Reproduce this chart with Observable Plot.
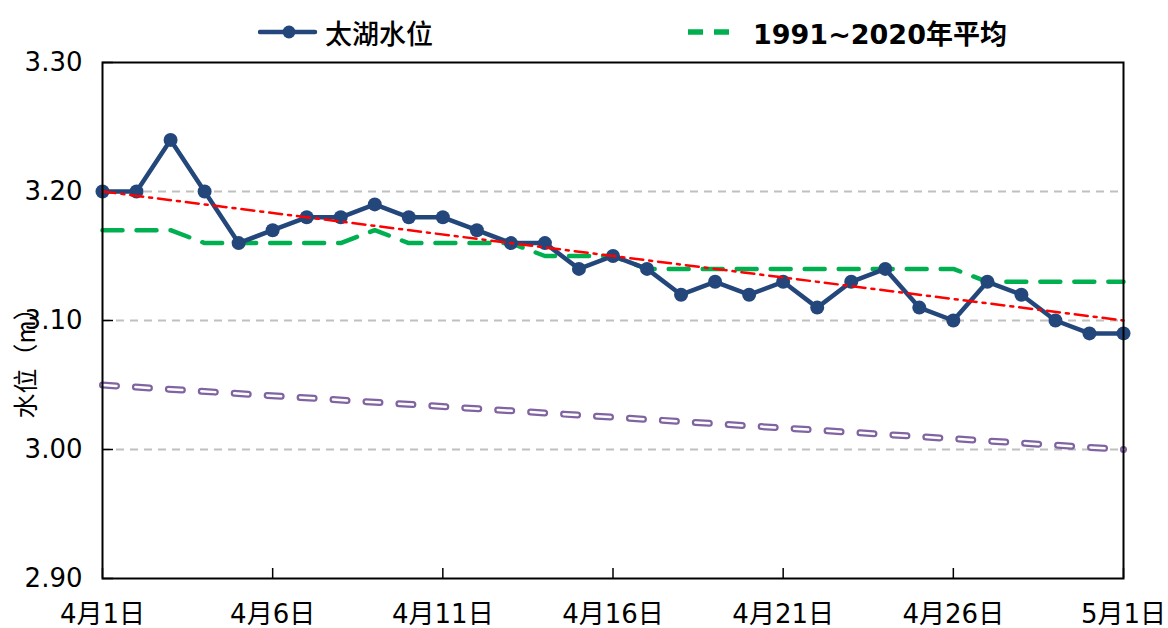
<!DOCTYPE html>
<html>
<head>
<meta charset="utf-8">
<script src="https://cdn.jsdelivr.net/npm/d3@7"></script>
<script src="https://cdn.jsdelivr.net/npm/@observablehq/plot@0.6"></script>
<style>
  html, body { margin: 0; padding: 0; background: #fff; }
  #wrap { position: relative; width: 1168px; height: 628px; font-family: "DejaVu Sans", "Noto Sans CJK SC", sans-serif; }
  #legend { position: absolute; left: 0; top: 0; width: 1168px; height: 62px; }
  .lg { position: absolute; top: 12px; height: 40px; display: flex; align-items: center; }
  .lg span { font-size: 27px; color: #000; white-space: nowrap; }
  #ylabel { position: absolute; left: 24px; top: 357px; transform: translate(-50%, -50%) rotate(-90deg);
            font-family: "Noto Sans CJK SC", sans-serif; font-size: 25px; white-space: nowrap; color: #000; line-height: 1; }
</style>
</head>
<body>
<div id="wrap">
  <div id="legend">
    <div class="lg" style="left:258px;">
      <svg width="60" height="40"><line x1="2" y1="20" x2="57" y2="20" stroke="#24477b" stroke-width="4.5" stroke-linecap="round"/><circle cx="31" cy="20" r="6.5" fill="#24477b"/></svg>
      <span style="margin-left:7px;font-family:'Noto Sans CJK SC';font-weight:500;">太湖水位</span>
    </div>
    <div class="lg" style="left:684px;">
      <svg width="50" height="40"><line x1="4" y1="20" x2="46" y2="20" stroke="#00b050" stroke-width="5.5" stroke-dasharray="15,11"/></svg>
      <span style="margin-left:19px;font-weight:bold;font-family:'DejaVu Sans','Noto Sans CJK SC';">1991~2020年平均</span>
    </div>
  </div>
  <div id="ylabel"></div>
</div>
<script>
// ---- data ----
const startDate = Date.UTC(2024, 3, 1);
const dayLabels = d3.range(31); // day offsets from 4月1日 to 5月1日
const taihuLevel = [3.20, 3.20, 3.24, 3.20, 3.16, 3.17, 3.18, 3.18, 3.19, 3.18,
                    3.18, 3.17, 3.16, 3.16, 3.14, 3.15, 3.14, 3.12, 3.13, 3.12,
                    3.13, 3.11, 3.13, 3.14, 3.11, 3.10, 3.13, 3.12, 3.10, 3.09, 3.09];
const avgLevel =   [3.17, 3.17, 3.17, 3.16, 3.16, 3.16, 3.16, 3.16, 3.17, 3.16,
                    3.16, 3.16, 3.16, 3.15, 3.15, 3.15, 3.14, 3.14, 3.14, 3.14,
                    3.14, 3.14, 3.14, 3.14, 3.14, 3.14, 3.13, 3.13, 3.13, 3.13, 3.13];
const redTrend = [3.20, 3.10];      // at 4月1日 and 5月1日
const purpleTrend = [3.05, 3.00];   // at 4月1日 and 5月1日
const yTicks = [2.90, 3.00, 3.10, 3.20, 3.30];
const gridTicks = [3.00, 3.10, 3.20];
const xTickOffsets = [0, 5, 10, 15, 20, 25, 30];
const yLabel = "水位（m）";

document.getElementById("ylabel").textContent = yLabel;

const day = i => new Date(startDate + i * 86400000);
const series = dayLabels.map((d, i) => ({date: day(d), level: taihuLevel[i], avg: avgLevel[i]}));
const redData = [{date: day(0), v: redTrend[0]}, {date: day(30), v: redTrend[1]}];
const purpleData = [{date: day(0), v: purpleTrend[0]}, {date: day(30), v: purpleTrend[1]}];
const xTicks = xTickOffsets.map(day);
const fmt = d => `${d.getUTCMonth() + 1}月${d.getUTCDate()}日`;

const W = 1168, H = 628, mL = 102, mR = 45, mT = 62, mB = 50;
const innerH = H - mT - mB, innerW = W - mL - mR;

const chart = Plot.plot({
  width: W, height: H,
  marginLeft: mL, marginRight: mR, marginTop: mT, marginBottom: mB,
  style: {fontFamily: "'DejaVu Sans','Noto Sans CJK SC',sans-serif", background: "transparent"},
  x: {type: "utc", domain: [day(0), day(30)]},
  y: {domain: [2.90, 3.30]},
  marks: [
    Plot.ruleY(gridTicks, {stroke: "#c0c0c0", strokeWidth: 2, strokeDasharray: "8,6"}),
    Plot.axisX(xTicks, {tickSize: 0, tickPadding: 26, fontSize: 26, tickFormat: fmt, label: null, stroke: "none"}),
    Plot.axisY(yTicks, {tickSize: 0, tickPadding: 20, fontSize: 26, tickFormat: d3.format(".2f"), label: null}),
    Plot.tickX(xTicks, {x: d => d, insetTop: innerH - 10, stroke: "#000", strokeWidth: 1.5}),
    Plot.tickY(yTicks, {y: d => d, insetRight: innerW - 11, stroke: "#000", strokeWidth: 1.5}),
    // purple double dashed line
    Plot.line(purpleData, {x: "date", y: "v", stroke: "#8064a2", strokeWidth: 7, strokeDasharray: "14,19", strokeLinecap: "round"}),
    Plot.line(purpleData, {x: "date", y: "v", stroke: "#ffffff", strokeWidth: 2.5, strokeDasharray: "14,19", strokeLinecap: "round"}),
    // 30-year average
    Plot.line(series, {x: "date", y: "avg", stroke: "#00b050", strokeWidth: 4.5, strokeDasharray: "20,14", strokeLinecap: "round"}),
    // Taihu level
    Plot.line(series, {x: "date", y: "level", stroke: "#24477b", strokeWidth: 4.5}),
    Plot.dot(series, {x: "date", y: "level", r: 7, fill: "#24477b", stroke: "none"}),
    // red trend
    Plot.line(redData, {x: "date", y: "v", stroke: "#ff0000", strokeWidth: 2.5, strokeDasharray: "13,6,3,6"}),
    Plot.frame({stroke: "#000", strokeWidth: 2})
  ]
});
chart.style.position = "absolute";
chart.style.left = "0px";
chart.style.top = "0px";
document.getElementById("wrap").insertBefore(chart, document.getElementById("legend"));
</script>
</body>
</html>
